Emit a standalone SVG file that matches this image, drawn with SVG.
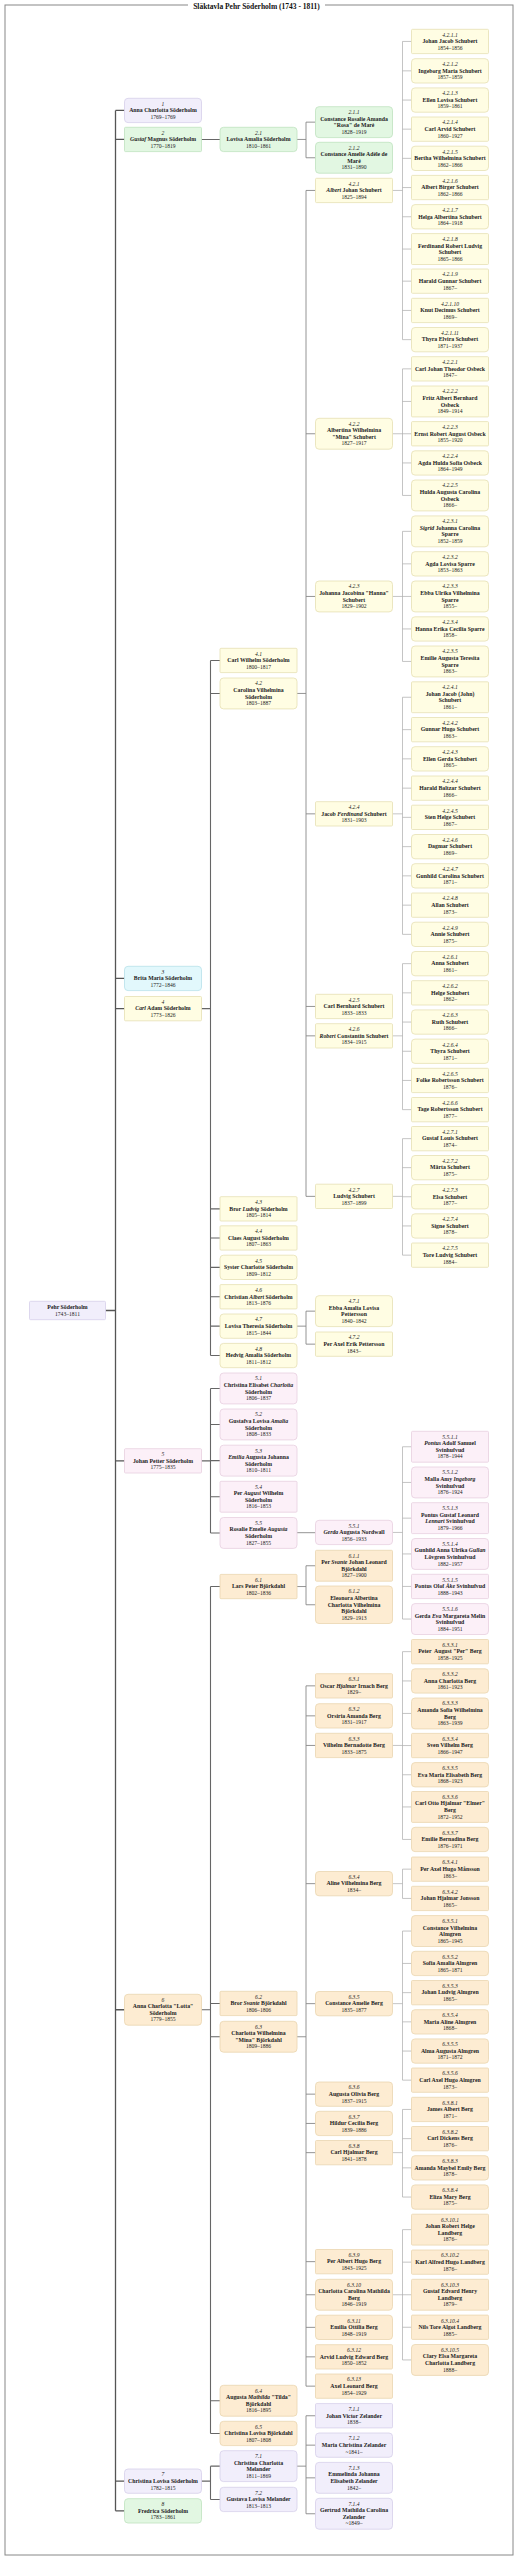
<svg xmlns="http://www.w3.org/2000/svg" width="519" height="2560" viewBox="0 0 519 2560">
<style>
rect.y{fill:#fffde3;stroke:#e6e0b4;stroke-width:.8}
rect.g{fill:#e2f7e2;stroke:#bfe2bf;stroke-width:.8}
rect.c{fill:#e2f8fc;stroke:#b8e1ea;stroke-width:.8}
rect.p{fill:#fcf0f8;stroke:#e7cfe0;stroke-width:.8}
rect.o{fill:#fdecd2;stroke:#ead5b0;stroke-width:.8}
rect.v{fill:#f1eefb;stroke:#d5cfea;stroke-width:.8}
text{font-family:"Liberation Serif","Times New Roman",serif;text-anchor:middle;fill:#222}
.n{font-size:5.6px;font-style:italic}
.b{font-size:5.8px;font-weight:bold}
.d{font-size:5.6px}
.i{font-style:italic}
.t{font-size:7.5px;font-weight:bold;fill:#111}
.k0{stroke:#555;stroke-width:1.3;fill:none}
.k1{stroke:#666;stroke-width:1.1;fill:none}
.k2{stroke:#888;stroke-width:.9;fill:none}
.k3{stroke:#aaa;stroke-width:.7;fill:none}
</style>
<rect x="5" y="5" width="508" height="2550" fill="#fff" stroke="#888" stroke-width="1"/>
<rect x="188" y="2" width="137" height="8" fill="#fff"/>
<text x="256.5" y="8.6" class="t">Släktavla Pehr Söderholm (1743 - 1811)</text>
<g id="connectors">
<path class="k0" d="M105.5,1310.5H115.5M115.5,110.45V2510.85M115.5,110.45H124.5M115.5,139.45H124.5M115.5,978.45H124.5M115.5,1008.65H124.5M115.5,1460.85H124.5M115.5,2009.75H124.5M115.5,2481.15H124.5M115.5,2510.85H124.5"/>
<path class="k1" d="M201.5,139.45H220M201.5,1008.65H210.5M210.5,660.45V1355.55M210.5,660.45H220M210.5,693.45H220M210.5,1208.85H220M210.5,1237.95H220M210.5,1267.35H220M210.5,1296.75H220M210.5,1326.15H220M210.5,1355.55H220M201.5,1460.85H210.5M210.5,1388.45V1532.95M210.5,1388.45H220M210.5,1424.45H220M210.5,1460.65H220M210.5,1496.75H220M210.5,1532.95H220M201.5,2009.75H210.5M210.5,1586.55V2433.45M210.5,1586.55H220M210.5,2003.45H220M210.5,2036.75H220M210.5,2400.75H220M210.5,2433.45H220M201.5,2481.15H210.5M210.5,2466.15V2499.45M210.5,2466.15H220M210.5,2499.45H220"/>
<path class="k2" d="M297,139.45H306M306,122.15V157.75M306,122.15H315.5M306,157.75H315.5M297,693.45H306M306,190.45V1196.35M306,190.45H315.5M306,433.75H315.5M306,596.45H315.5M306,813.85H315.5M306,1006.45H315.5M306,1035.85H315.5M306,1196.35H315.5M297,1326.15H306M306,1311.15V1344.15M306,1311.15H315.5M306,1344.15H315.5M297,1532.7H315.5M297,1586.55H306M306,1565.75V1604.75M306,1565.75H315.5M306,1604.75H315.5M297,2036.75H306M306,1685.85V2386.15M306,1685.85H315.5M306,1715.85H315.5M306,1745.45H315.5M306,1883.65H315.5M306,2003.65H315.5M306,2094.15H315.5M306,2123.45H315.5M306,2152.65H315.5M306,2261.65H315.5M306,2294.75H315.5M306,2327.35H315.5M306,2356.85H315.5M306,2386.15H315.5M297,2466.15H306M306,2415.75V2513.75M306,2415.75H315.5M306,2445.15H315.5M306,2477.85H315.5M306,2513.75H315.5"/>
<path class="k3" d="M392.5,190.45H402.5M402.5,41.45V339.65M402.5,41.45H411.5M402.5,70.85H411.5M402.5,100.05H411.5M402.5,129.15H411.5M402.5,158.35H411.5M402.5,187.55H411.5M402.5,216.75H411.5M402.5,249.05H411.5M402.5,281.15H411.5M402.5,310.45H411.5M402.5,339.65H411.5M392.5,433.75H402.5M402.5,368.85V495.45M402.5,368.85H411.5M402.5,401.45H411.5M402.5,433.75H411.5M402.5,462.95H411.5M402.5,495.45H411.5M392.5,596.45H402.5M402.5,531.35V661.45M402.5,531.35H411.5M402.5,563.85H411.5M402.5,596.45H411.5M402.5,628.95H411.5M402.5,661.45H411.5M392.5,813.85H402.5M402.5,697.25V934.35M402.5,697.25H411.5M402.5,729.65H411.5M402.5,758.85H411.5M402.5,788.15H411.5M402.5,817.35H411.5M402.5,846.65H411.5M402.5,875.85H411.5M402.5,905.15H411.5M402.5,934.35H411.5M392.5,1035.85H402.5M402.5,963.65V1109.65M402.5,963.65H411.5M402.5,992.85H411.5M402.5,1022.05H411.5M402.5,1051.25H411.5M402.5,1080.45H411.5M402.5,1109.65H411.5M392.5,1196.35H402.5M402.5,1138.65V1255.15M402.5,1138.65H411.5M402.5,1167.65H411.5M402.5,1196.75H411.5M402.5,1225.95H411.5M402.5,1255.15H411.5M392.5,1532.45H402.5M402.5,1446.75V1619.05M402.5,1446.75H411.5M402.5,1482.45H411.5M402.5,1518.15H411.5M402.5,1553.95H411.5M402.5,1586.45H411.5M402.5,1619.05H411.5M392.5,1745.45H402.5M402.5,1651.65V1839.45M402.5,1651.65H411.5M402.5,1680.95H411.5M402.5,1713.45H411.5M402.5,1745.55H411.5M402.5,1774.75H411.5M402.5,1806.95H411.5M402.5,1839.45H411.5M392.5,1883.65H402.5M402.5,1869.15V1898.45M402.5,1869.15H411.5M402.5,1898.45H411.5M392.5,2003.65H402.5M402.5,1931.05V2080.15M402.5,1931.05H411.5M402.5,1963.45H411.5M402.5,1992.65H411.5M402.5,2021.85H411.5M402.5,2051.05H411.5M402.5,2080.15H411.5M392.5,2152.65H402.5M402.5,2109.45V2197.05M402.5,2109.45H411.5M402.5,2138.65H411.5M402.5,2167.85H411.5M402.5,2197.05H411.5M392.5,2294.75H402.5M402.5,2229.65V2359.95M402.5,2229.65H411.5M402.5,2262.15H411.5M402.5,2294.75H411.5M402.5,2327.25H411.5M402.5,2359.95H411.5"/>
</g>
<g id="n0"><rect class="v" x="29.5" y="1301.3" width="76" height="18.4" rx="1"/><text x="67.5" y="1308.9" class="b">Pehr Söderholm</text><text x="67.5" y="1315.5" class="d">1743–1811</text></g>
<g id="n1"><rect class="v" x="124.5" y="98.3" width="77" height="24.3" rx="3.5"/><text x="163" y="105.7" class="n">1</text><text x="163" y="112.2" class="b">Anna Charlotta Söderholm</text><text x="163" y="118.8" class="d">1769–1769</text></g>
<g id="n2"><rect class="g" x="124.5" y="127.3" width="77" height="24.3" rx="1"/><text x="163" y="134.7" class="n">2</text><text x="163" y="141.2" class="b"><tspan class="i">Gustaf</tspan> Magnus Söderholm</text><text x="163" y="147.8" class="d">1770–1819</text></g>
<g id="n3"><rect class="c" x="124.5" y="966.3" width="77" height="24.3" rx="3.5"/><text x="163" y="973.7" class="n">3</text><text x="163" y="980.2" class="b">Brita Maria Söderholm</text><text x="163" y="986.8" class="d">1772–1846</text></g>
<g id="n4"><rect class="y" x="124.5" y="996.5" width="77" height="24.3" rx="1"/><text x="163" y="1003.9" class="n">4</text><text x="163" y="1010.4" class="b"><tspan class="i">Carl</tspan> Adam Söderholm</text><text x="163" y="1017" class="d">1773–1826</text></g>
<g id="n5"><rect class="p" x="124.5" y="1448.7" width="77" height="24.3" rx="1"/><text x="163" y="1456.1" class="n">5</text><text x="163" y="1462.6" class="b">Johan Petter Söderholm</text><text x="163" y="1469.2" class="d">1775–1835</text></g>
<g id="n6"><rect class="o" x="124.5" y="1994.3" width="77" height="30.9" rx="3.5"/><text x="163" y="2001.7" class="n">6</text><text x="163" y="2008.2" class="b">Anna Charlotta "Lotta"</text><text x="163" y="2014.8" class="b">Söderholm</text><text x="163" y="2021.4" class="d">1779–1855</text></g>
<g id="n7"><rect class="v" x="124.5" y="2469" width="77" height="24.3" rx="3.5"/><text x="163" y="2476.4" class="n">7</text><text x="163" y="2482.9" class="b">Christina Lovisa Söderholm</text><text x="163" y="2489.5" class="d">1782–1815</text></g>
<g id="n8"><rect class="g" x="124.5" y="2498.7" width="77" height="24.3" rx="3.5"/><text x="163" y="2506.1" class="n">8</text><text x="163" y="2512.6" class="b">Fredrica Söderholm</text><text x="163" y="2519.2" class="d">1783–1861</text></g>
<g id="n2_1"><rect class="g" x="220" y="127.3" width="77" height="24.3" rx="3.5"/><text x="258.5" y="134.7" class="n">2.1</text><text x="258.5" y="141.2" class="b">Lovisa Amalia Söderholm</text><text x="258.5" y="147.8" class="d">1810–1861</text></g>
<g id="n4_1"><rect class="y" x="220" y="648.3" width="77" height="24.3" rx="1"/><text x="258.5" y="655.7" class="n">4.1</text><text x="258.5" y="662.2" class="b">Carl Wilhelm Söderholm</text><text x="258.5" y="668.8" class="d">1800–1817</text></g>
<g id="n4_2"><rect class="y" x="220" y="678" width="77" height="30.9" rx="3.5"/><text x="258.5" y="685.4" class="n">4.2</text><text x="258.5" y="691.9" class="b">Carolina Vilhelmina</text><text x="258.5" y="698.5" class="b">Söderholm</text><text x="258.5" y="705.1" class="d">1803–1887</text></g>
<g id="n4_3"><rect class="y" x="220" y="1196.7" width="77" height="24.3" rx="1"/><text x="258.5" y="1204.1" class="n">4.3</text><text x="258.5" y="1210.6" class="b">Bror <tspan class="i">Ludvig</tspan> Söderholm</text><text x="258.5" y="1217.2" class="d">1805–1814</text></g>
<g id="n4_4"><rect class="y" x="220" y="1225.8" width="77" height="24.3" rx="1"/><text x="258.5" y="1233.2" class="n">4.4</text><text x="258.5" y="1239.7" class="b">Claes August Söderholm</text><text x="258.5" y="1246.3" class="d">1807–1863</text></g>
<g id="n4_5"><rect class="y" x="220" y="1255.2" width="77" height="24.3" rx="3.5"/><text x="258.5" y="1262.6" class="n">4.5</text><text x="258.5" y="1269.1" class="b">Syster Charlotte Söderholm</text><text x="258.5" y="1275.7" class="d">1809–1812</text></g>
<g id="n4_6"><rect class="y" x="220" y="1284.6" width="77" height="24.3" rx="1"/><text x="258.5" y="1292" class="n">4.6</text><text x="258.5" y="1298.5" class="b">Christian <tspan class="i">Albert</tspan> Söderholm</text><text x="258.5" y="1305.1" class="d">1813–1876</text></g>
<g id="n4_7"><rect class="y" x="220" y="1314" width="77" height="24.3" rx="3.5"/><text x="258.5" y="1321.4" class="n">4.7</text><text x="258.5" y="1327.9" class="b">Lovisa Theresia Söderholm</text><text x="258.5" y="1334.5" class="d">1815–1844</text></g>
<g id="n4_8"><rect class="y" x="220" y="1343.4" width="77" height="24.3" rx="3.5"/><text x="258.5" y="1350.8" class="n">4.8</text><text x="258.5" y="1357.3" class="b">Hedvig Amalia Söderholm</text><text x="258.5" y="1363.9" class="d">1811–1812</text></g>
<g id="n5_1"><rect class="p" x="220" y="1373" width="77" height="30.9" rx="3.5"/><text x="258.5" y="1380.4" class="n">5.1</text><text x="258.5" y="1386.9" class="b">Christina Elisabet <tspan class="i">Charlotta</tspan></text><text x="258.5" y="1393.5" class="b">Söderholm</text><text x="258.5" y="1400.1" class="d">1806–1837</text></g>
<g id="n5_2"><rect class="p" x="220" y="1409" width="77" height="30.9" rx="3.5"/><text x="258.5" y="1416.4" class="n">5.2</text><text x="258.5" y="1422.9" class="b">Gustafva Lovisa <tspan class="i">Amalia</tspan></text><text x="258.5" y="1429.5" class="b">Söderholm</text><text x="258.5" y="1436.1" class="d">1808–1833</text></g>
<g id="n5_3"><rect class="p" x="220" y="1445.2" width="77" height="30.9" rx="3.5"/><text x="258.5" y="1452.6" class="n">5.3</text><text x="258.5" y="1459.1" class="b"><tspan class="i">Emilia</tspan> Augusta Johanna</text><text x="258.5" y="1465.7" class="b">Söderholm</text><text x="258.5" y="1472.3" class="d">1810–1811</text></g>
<g id="n5_4"><rect class="p" x="220" y="1481.3" width="77" height="30.9" rx="1"/><text x="258.5" y="1488.7" class="n">5.4</text><text x="258.5" y="1495.2" class="b">Per <tspan class="i">August</tspan> Wilhelm</text><text x="258.5" y="1501.8" class="b">Söderholm</text><text x="258.5" y="1508.4" class="d">1816–1853</text></g>
<g id="n5_5"><rect class="p" x="220" y="1517.5" width="77" height="30.9" rx="3.5"/><text x="258.5" y="1524.9" class="n">5.5</text><text x="258.5" y="1531.4" class="b">Rosalie Emelie <tspan class="i">Augusta</tspan></text><text x="258.5" y="1538" class="b">Söderholm</text><text x="258.5" y="1544.6" class="d">1827–1855</text></g>
<g id="n6_1"><rect class="o" x="220" y="1574.4" width="77" height="24.3" rx="1"/><text x="258.5" y="1581.8" class="n">6.1</text><text x="258.5" y="1588.3" class="b">Lars Peter Björkdahl</text><text x="258.5" y="1594.9" class="d">1802–1836</text></g>
<g id="n6_2"><rect class="o" x="220" y="1991.3" width="77" height="24.3" rx="1"/><text x="258.5" y="1998.7" class="n">6.2</text><text x="258.5" y="2005.2" class="b">Bror <tspan class="i">Svante</tspan> Björkdahl</text><text x="258.5" y="2011.8" class="d">1806–1806</text></g>
<g id="n6_3"><rect class="o" x="220" y="2021.3" width="77" height="30.9" rx="3.5"/><text x="258.5" y="2028.7" class="n">6.3</text><text x="258.5" y="2035.2" class="b">Charlotta Wilhelmina</text><text x="258.5" y="2041.8" class="b">"Mina" Björkdahl</text><text x="258.5" y="2048.4" class="d">1809–1886</text></g>
<g id="n6_4"><rect class="o" x="220" y="2385.3" width="77" height="30.9" rx="3.5"/><text x="258.5" y="2392.7" class="n">6.4</text><text x="258.5" y="2399.2" class="b">Augusta <tspan class="i">Mathilda</tspan> "Tilda"</text><text x="258.5" y="2405.8" class="b">Björkdahl</text><text x="258.5" y="2412.4" class="d">1816–1895</text></g>
<g id="n6_5"><rect class="o" x="220" y="2421.3" width="77" height="24.3" rx="3.5"/><text x="258.5" y="2428.7" class="n">6.5</text><text x="258.5" y="2435.2" class="b">Christina Lovisa Björkdahl</text><text x="258.5" y="2441.8" class="d">1807–1808</text></g>
<g id="n7_1"><rect class="v" x="220" y="2450.7" width="77" height="30.9" rx="3.5"/><text x="258.5" y="2458.1" class="n">7.1</text><text x="258.5" y="2464.6" class="b">Christina Charlotta</text><text x="258.5" y="2471.2" class="b">Melander</text><text x="258.5" y="2477.8" class="d">1811–1869</text></g>
<g id="n7_2"><rect class="v" x="220" y="2487.3" width="77" height="24.3" rx="3.5"/><text x="258.5" y="2494.7" class="n">7.2</text><text x="258.5" y="2501.2" class="b">Gustava Lovisa Melander</text><text x="258.5" y="2507.8" class="d">1813–1813</text></g>
<g id="n2_1_1"><rect class="g" x="315.5" y="106.7" width="77" height="30.9" rx="3.5"/><text x="354" y="114.1" class="n">2.1.1</text><text x="354" y="120.6" class="b">Constance Rosalie Amanda</text><text x="354" y="127.2" class="b">"Rosa" de Maré</text><text x="354" y="133.8" class="d">1828–1919</text></g>
<g id="n2_1_2"><rect class="g" x="315.5" y="142.3" width="77" height="30.9" rx="3.5"/><text x="354" y="149.7" class="n">2.1.2</text><text x="354" y="156.2" class="b">Constance Amelie Adèle de</text><text x="354" y="162.8" class="b">Maré</text><text x="354" y="169.4" class="d">1831–1890</text></g>
<g id="n4_2_1"><rect class="y" x="315.5" y="178.3" width="77" height="24.3" rx="1"/><text x="354" y="185.7" class="n">4.2.1</text><text x="354" y="192.2" class="b"><tspan class="i">Albert</tspan> Johan Schubert</text><text x="354" y="198.8" class="d">1825–1894</text></g>
<g id="n4_2_2"><rect class="y" x="315.5" y="418.3" width="77" height="30.9" rx="3.5"/><text x="354" y="425.7" class="n">4.2.2</text><text x="354" y="432.2" class="b">Albertina Wilhelmina</text><text x="354" y="438.8" class="b">"Mina" Schubert</text><text x="354" y="445.4" class="d">1827–1917</text></g>
<g id="n4_2_3"><rect class="y" x="315.5" y="581" width="77" height="30.9" rx="3.5"/><text x="354" y="588.4" class="n">4.2.3</text><text x="354" y="594.9" class="b">Johanna Jacobina "Hanna"</text><text x="354" y="601.5" class="b">Schubert</text><text x="354" y="608.1" class="d">1829–1902</text></g>
<g id="n4_2_4"><rect class="y" x="315.5" y="801.7" width="77" height="24.3" rx="1"/><text x="354" y="809.1" class="n">4.2.4</text><text x="354" y="815.6" class="b">Jacob <tspan class="i">Ferdinand</tspan> Schubert</text><text x="354" y="822.2" class="d">1831–1903</text></g>
<g id="n4_2_5"><rect class="y" x="315.5" y="994.3" width="77" height="24.3" rx="1"/><text x="354" y="1001.7" class="n">4.2.5</text><text x="354" y="1008.2" class="b">Carl Bernhard Schubert</text><text x="354" y="1014.8" class="d">1833–1833</text></g>
<g id="n4_2_6"><rect class="y" x="315.5" y="1023.7" width="77" height="24.3" rx="1"/><text x="354" y="1031.1" class="n">4.2.6</text><text x="354" y="1037.6" class="b"><tspan class="i">Robert</tspan> Constantin Schubert</text><text x="354" y="1044.2" class="d">1834–1915</text></g>
<g id="n4_2_7"><rect class="y" x="315.5" y="1184.2" width="77" height="24.3" rx="1"/><text x="354" y="1191.6" class="n">4.2.7</text><text x="354" y="1198.1" class="b">Ludvig Schubert</text><text x="354" y="1204.7" class="d">1837–1899</text></g>
<g id="n4_7_1"><rect class="y" x="315.5" y="1295.7" width="77" height="30.9" rx="3.5"/><text x="354" y="1303.1" class="n">4.7.1</text><text x="354" y="1309.6" class="b">Ebba Amalia Lovisa</text><text x="354" y="1316.2" class="b">Pettersson</text><text x="354" y="1322.8" class="d">1840–1842</text></g>
<g id="n4_7_2"><rect class="y" x="315.5" y="1332" width="77" height="24.3" rx="1"/><text x="354" y="1339.4" class="n">4.7.2</text><text x="354" y="1345.9" class="b">Per Axel Erik Pettersson</text><text x="354" y="1352.5" class="d">1843–</text></g>
<g id="n5_5_1"><rect class="p" x="315.5" y="1520.3" width="77" height="24.3" rx="3.5"/><text x="354" y="1527.7" class="n">5.5.1</text><text x="354" y="1534.2" class="b"><tspan class="i">Gerda</tspan> Augusta Nordwall</text><text x="354" y="1540.8" class="d">1856–1933</text></g>
<g id="n6_1_1"><rect class="o" x="315.5" y="1550.3" width="77" height="30.9" rx="1"/><text x="354" y="1557.7" class="n">6.1.1</text><text x="354" y="1564.2" class="b">Per <tspan class="i">Svante</tspan> Johan Leonard</text><text x="354" y="1570.8" class="b">Björkdahl</text><text x="354" y="1577.4" class="d">1827–1900</text></g>
<g id="n6_1_2"><rect class="o" x="315.5" y="1586" width="77" height="37.5" rx="3.5"/><text x="354" y="1593.4" class="n">6.1.2</text><text x="354" y="1599.9" class="b">Eleonora Albertina</text><text x="354" y="1606.5" class="b">Charlotta Vilhelmina</text><text x="354" y="1613.1" class="b">Björkdahl</text><text x="354" y="1619.7" class="d">1829–1913</text></g>
<g id="n6_3_1"><rect class="o" x="315.5" y="1673.7" width="77" height="24.3" rx="1"/><text x="354" y="1681.1" class="n">6.3.1</text><text x="354" y="1687.6" class="b">Oscar <tspan class="i">Hjalmar</tspan> Irnach Berg</text><text x="354" y="1694.2" class="d">1829–</text></g>
<g id="n6_3_2"><rect class="o" x="315.5" y="1703.7" width="77" height="24.3" rx="3.5"/><text x="354" y="1711.1" class="n">6.3.2</text><text x="354" y="1717.6" class="b">Orsiria Amanda Berg</text><text x="354" y="1724.2" class="d">1831–1917</text></g>
<g id="n6_3_3"><rect class="o" x="315.5" y="1733.3" width="77" height="24.3" rx="1"/><text x="354" y="1740.7" class="n">6.3.3</text><text x="354" y="1747.2" class="b">Vilhelm Bernadotte Berg</text><text x="354" y="1753.8" class="d">1833–1875</text></g>
<g id="n6_3_4"><rect class="o" x="315.5" y="1871.5" width="77" height="24.3" rx="3.5"/><text x="354" y="1878.9" class="n">6.3.4</text><text x="354" y="1885.4" class="b">Aline Vilhelmina Berg</text><text x="354" y="1892" class="d">1834–</text></g>
<g id="n6_3_5"><rect class="o" x="315.5" y="1991.5" width="77" height="24.3" rx="3.5"/><text x="354" y="1998.9" class="n">6.3.5</text><text x="354" y="2005.4" class="b">Constance Amelie Berg</text><text x="354" y="2012" class="d">1835–1877</text></g>
<g id="n6_3_6"><rect class="o" x="315.5" y="2082" width="77" height="24.3" rx="3.5"/><text x="354" y="2089.4" class="n">6.3.6</text><text x="354" y="2095.9" class="b">Augusta Olivia Berg</text><text x="354" y="2102.5" class="d">1837–1915</text></g>
<g id="n6_3_7"><rect class="o" x="315.5" y="2111.3" width="77" height="24.3" rx="3.5"/><text x="354" y="2118.7" class="n">6.3.7</text><text x="354" y="2125.2" class="b">Hildur Cecilia Berg</text><text x="354" y="2131.8" class="d">1839–1886</text></g>
<g id="n6_3_8"><rect class="o" x="315.5" y="2140.5" width="77" height="24.3" rx="1"/><text x="354" y="2147.9" class="n">6.3.8</text><text x="354" y="2154.4" class="b">Carl Hjalmar Berg</text><text x="354" y="2161" class="d">1841–1878</text></g>
<g id="n6_3_9"><rect class="o" x="315.5" y="2249.5" width="77" height="24.3" rx="1"/><text x="354" y="2256.9" class="n">6.3.9</text><text x="354" y="2263.4" class="b">Per Albert Hugo Berg</text><text x="354" y="2270" class="d">1843–1925</text></g>
<g id="n6_3_10"><rect class="o" x="315.5" y="2279.3" width="77" height="30.9" rx="3.5"/><text x="354" y="2286.7" class="n">6.3.10</text><text x="354" y="2293.2" class="b">Charlotta Carolina Mathilda</text><text x="354" y="2299.8" class="b">Berg</text><text x="354" y="2306.4" class="d">1846–1919</text></g>
<g id="n6_3_11"><rect class="o" x="315.5" y="2315.2" width="77" height="24.3" rx="3.5"/><text x="354" y="2322.6" class="n">6.3.11</text><text x="354" y="2329.1" class="b">Emilia Ottilia Berg</text><text x="354" y="2335.7" class="d">1848–1919</text></g>
<g id="n6_3_12"><rect class="o" x="315.5" y="2344.7" width="77" height="24.3" rx="1"/><text x="354" y="2352.1" class="n">6.3.12</text><text x="354" y="2358.6" class="b">Arvid Ludvig Edward Berg</text><text x="354" y="2365.2" class="d">1850–1852</text></g>
<g id="n6_3_13"><rect class="o" x="315.5" y="2374" width="77" height="24.3" rx="1"/><text x="354" y="2381.4" class="n">6.3.13</text><text x="354" y="2387.9" class="b">Axel Leonard Berg</text><text x="354" y="2394.5" class="d">1854–1929</text></g>
<g id="n7_1_1"><rect class="v" x="315.5" y="2403.6" width="77" height="24.3" rx="1"/><text x="354" y="2411" class="n">7.1.1</text><text x="354" y="2417.5" class="b">Johan Victor Zelander</text><text x="354" y="2424.1" class="d">1838–</text></g>
<g id="n7_1_2"><rect class="v" x="315.5" y="2433" width="77" height="24.3" rx="3.5"/><text x="354" y="2440.4" class="n">7.1.2</text><text x="354" y="2446.9" class="b">Maria Christina Zelander</text><text x="354" y="2453.5" class="d">~1841–</text></g>
<g id="n7_1_3"><rect class="v" x="315.5" y="2462.4" width="77" height="30.9" rx="3.5"/><text x="354" y="2469.8" class="n">7.1.3</text><text x="354" y="2476.3" class="b">Emmelinda Johanna</text><text x="354" y="2482.9" class="b">Elisabeth Zelander</text><text x="354" y="2489.5" class="d">1842–</text></g>
<g id="n7_1_4"><rect class="v" x="315.5" y="2498.3" width="77" height="30.9" rx="3.5"/><text x="354" y="2505.7" class="n">7.1.4</text><text x="354" y="2512.2" class="b">Gertrud Mathilda Carolina</text><text x="354" y="2518.8" class="b">Zelander</text><text x="354" y="2525.4" class="d">~1849–</text></g>
<g id="n4_2_1_1"><rect class="y" x="411.5" y="29.3" width="77" height="24.3" rx="1"/><text x="450" y="36.7" class="n">4.2.1.1</text><text x="450" y="43.2" class="b">Johan Jacob Schubert</text><text x="450" y="49.8" class="d">1854–1856</text></g>
<g id="n4_2_1_2"><rect class="y" x="411.5" y="58.7" width="77" height="24.3" rx="3.5"/><text x="450" y="66.1" class="n">4.2.1.2</text><text x="450" y="72.6" class="b">Ingeborg Maria Schubert</text><text x="450" y="79.2" class="d">1857–1859</text></g>
<g id="n4_2_1_3"><rect class="y" x="411.5" y="87.9" width="77" height="24.3" rx="3.5"/><text x="450" y="95.3" class="n">4.2.1.3</text><text x="450" y="101.8" class="b">Ellen Lovisa Schubert</text><text x="450" y="108.4" class="d">1859–1861</text></g>
<g id="n4_2_1_4"><rect class="y" x="411.5" y="117" width="77" height="24.3" rx="1"/><text x="450" y="124.4" class="n">4.2.1.4</text><text x="450" y="130.9" class="b">Carl Arvid Schubert</text><text x="450" y="137.5" class="d">1860–1927</text></g>
<g id="n4_2_1_5"><rect class="y" x="411.5" y="146.2" width="77" height="24.3" rx="3.5"/><text x="450" y="153.6" class="n">4.2.1.5</text><text x="450" y="160.1" class="b">Bertha Wilhelmina Schubert</text><text x="450" y="166.7" class="d">1862–1866</text></g>
<g id="n4_2_1_6"><rect class="y" x="411.5" y="175.4" width="77" height="24.3" rx="1"/><text x="450" y="182.8" class="n">4.2.1.6</text><text x="450" y="189.3" class="b">Albert Birger Schubert</text><text x="450" y="195.9" class="d">1862–1866</text></g>
<g id="n4_2_1_7"><rect class="y" x="411.5" y="204.6" width="77" height="24.3" rx="3.5"/><text x="450" y="212" class="n">4.2.1.7</text><text x="450" y="218.5" class="b">Helga Albertina Schubert</text><text x="450" y="225.1" class="d">1864–1918</text></g>
<g id="n4_2_1_8"><rect class="y" x="411.5" y="233.6" width="77" height="30.9" rx="1"/><text x="450" y="241" class="n">4.2.1.8</text><text x="450" y="247.5" class="b">Ferdinand Robert Ludvig</text><text x="450" y="254.1" class="b">Schubert</text><text x="450" y="260.7" class="d">1865–1866</text></g>
<g id="n4_2_1_9"><rect class="y" x="411.5" y="269" width="77" height="24.3" rx="1"/><text x="450" y="276.4" class="n">4.2.1.9</text><text x="450" y="282.9" class="b">Harald Gunnar Schubert</text><text x="450" y="289.5" class="d">1867–</text></g>
<g id="n4_2_1_10"><rect class="y" x="411.5" y="298.3" width="77" height="24.3" rx="1"/><text x="450" y="305.7" class="n">4.2.1.10</text><text x="450" y="312.2" class="b">Knut Decimus Schubert</text><text x="450" y="318.8" class="d">1869–</text></g>
<g id="n4_2_1_11"><rect class="y" x="411.5" y="327.5" width="77" height="24.3" rx="3.5"/><text x="450" y="334.9" class="n">4.2.1.11</text><text x="450" y="341.4" class="b">Thyra Elvira Schubert</text><text x="450" y="348" class="d">1871–1937</text></g>
<g id="n4_2_2_1"><rect class="y" x="411.5" y="356.7" width="77" height="24.3" rx="1"/><text x="450" y="364.1" class="n">4.2.2.1</text><text x="450" y="370.6" class="b">Carl Johan Theodor Osbeck</text><text x="450" y="377.2" class="d">1847–</text></g>
<g id="n4_2_2_2"><rect class="y" x="411.5" y="386" width="77" height="30.9" rx="1"/><text x="450" y="393.4" class="n">4.2.2.2</text><text x="450" y="399.9" class="b">Fritz Albert Bernhard</text><text x="450" y="406.5" class="b">Osbeck</text><text x="450" y="413.1" class="d">1849–1914</text></g>
<g id="n4_2_2_3"><rect class="y" x="411.5" y="421.6" width="77" height="24.3" rx="1"/><text x="450" y="429" class="n">4.2.2.3</text><text x="450" y="435.5" class="b">Ernst Robert August Osbeck</text><text x="450" y="442.1" class="d">1855–1920</text></g>
<g id="n4_2_2_4"><rect class="y" x="411.5" y="450.8" width="77" height="24.3" rx="3.5"/><text x="450" y="458.2" class="n">4.2.2.4</text><text x="450" y="464.7" class="b">Agda Hulda Sofia Osbeck</text><text x="450" y="471.3" class="d">1864–1949</text></g>
<g id="n4_2_2_5"><rect class="y" x="411.5" y="480" width="77" height="30.9" rx="3.5"/><text x="450" y="487.4" class="n">4.2.2.5</text><text x="450" y="493.9" class="b">Hulda Augusta Carolina</text><text x="450" y="500.5" class="b">Osbeck</text><text x="450" y="507.1" class="d">1866–</text></g>
<g id="n4_2_3_1"><rect class="y" x="411.5" y="515.9" width="77" height="30.9" rx="3.5"/><text x="450" y="523.3" class="n">4.2.3.1</text><text x="450" y="529.8" class="b"><tspan class="i">Sigrid</tspan> Johanna Carolina</text><text x="450" y="536.4" class="b">Sparre</text><text x="450" y="543" class="d">1852–1859</text></g>
<g id="n4_2_3_2"><rect class="y" x="411.5" y="551.7" width="77" height="24.3" rx="3.5"/><text x="450" y="559.1" class="n">4.2.3.2</text><text x="450" y="565.6" class="b">Agda Lovisa Sparre</text><text x="450" y="572.2" class="d">1853–1863</text></g>
<g id="n4_2_3_3"><rect class="y" x="411.5" y="581" width="77" height="30.9" rx="3.5"/><text x="450" y="588.4" class="n">4.2.3.3</text><text x="450" y="594.9" class="b">Ebba Ulrika Vilhelmina</text><text x="450" y="601.5" class="b">Sparre</text><text x="450" y="608.1" class="d">1855–</text></g>
<g id="n4_2_3_4"><rect class="y" x="411.5" y="616.8" width="77" height="24.3" rx="3.5"/><text x="450" y="624.2" class="n">4.2.3.4</text><text x="450" y="630.7" class="b">Hanna Erika Cecilia Sparre</text><text x="450" y="637.3" class="d">1858–</text></g>
<g id="n4_2_3_5"><rect class="y" x="411.5" y="646" width="77" height="30.9" rx="3.5"/><text x="450" y="653.4" class="n">4.2.3.5</text><text x="450" y="659.9" class="b">Emilie Augusta Teresita</text><text x="450" y="666.5" class="b">Sparre</text><text x="450" y="673.1" class="d">1863–</text></g>
<g id="n4_2_4_1"><rect class="y" x="411.5" y="681.8" width="77" height="30.9" rx="1"/><text x="450" y="689.2" class="n">4.2.4.1</text><text x="450" y="695.7" class="b">Johan Jacob (John)</text><text x="450" y="702.3" class="b">Schubert</text><text x="450" y="708.9" class="d">1861–</text></g>
<g id="n4_2_4_2"><rect class="y" x="411.5" y="717.5" width="77" height="24.3" rx="1"/><text x="450" y="724.9" class="n">4.2.4.2</text><text x="450" y="731.4" class="b">Gunnar Hugo Schubert</text><text x="450" y="738" class="d">1863–</text></g>
<g id="n4_2_4_3"><rect class="y" x="411.5" y="746.7" width="77" height="24.3" rx="3.5"/><text x="450" y="754.1" class="n">4.2.4.3</text><text x="450" y="760.6" class="b">Ellen Gerda Schubert</text><text x="450" y="767.2" class="d">1865–</text></g>
<g id="n4_2_4_4"><rect class="y" x="411.5" y="776" width="77" height="24.3" rx="1"/><text x="450" y="783.4" class="n">4.2.4.4</text><text x="450" y="789.9" class="b">Harald Baltzar Schubert</text><text x="450" y="796.5" class="d">1866–</text></g>
<g id="n4_2_4_5"><rect class="y" x="411.5" y="805.2" width="77" height="24.3" rx="1"/><text x="450" y="812.6" class="n">4.2.4.5</text><text x="450" y="819.1" class="b">Sten Helge Schubert</text><text x="450" y="825.7" class="d">1867–</text></g>
<g id="n4_2_4_6"><rect class="y" x="411.5" y="834.5" width="77" height="24.3" rx="3.5"/><text x="450" y="841.9" class="n">4.2.4.6</text><text x="450" y="848.4" class="b">Dagmar Schubert</text><text x="450" y="855" class="d">1869–</text></g>
<g id="n4_2_4_7"><rect class="y" x="411.5" y="863.7" width="77" height="24.3" rx="3.5"/><text x="450" y="871.1" class="n">4.2.4.7</text><text x="450" y="877.6" class="b">Gunhild Carolina Schubert</text><text x="450" y="884.2" class="d">1871–</text></g>
<g id="n4_2_4_8"><rect class="y" x="411.5" y="893" width="77" height="24.3" rx="1"/><text x="450" y="900.4" class="n">4.2.4.8</text><text x="450" y="906.9" class="b">Allan Schubert</text><text x="450" y="913.5" class="d">1873–</text></g>
<g id="n4_2_4_9"><rect class="y" x="411.5" y="922.2" width="77" height="24.3" rx="3.5"/><text x="450" y="929.6" class="n">4.2.4.9</text><text x="450" y="936.1" class="b">Annie Schubert</text><text x="450" y="942.7" class="d">1875–</text></g>
<g id="n4_2_6_1"><rect class="y" x="411.5" y="951.5" width="77" height="24.3" rx="3.5"/><text x="450" y="958.9" class="n">4.2.6.1</text><text x="450" y="965.4" class="b">Anna Schubert</text><text x="450" y="972" class="d">1861–</text></g>
<g id="n4_2_6_2"><rect class="y" x="411.5" y="980.7" width="77" height="24.3" rx="1"/><text x="450" y="988.1" class="n">4.2.6.2</text><text x="450" y="994.6" class="b">Helge Schubert</text><text x="450" y="1001.2" class="d">1862–</text></g>
<g id="n4_2_6_3"><rect class="y" x="411.5" y="1009.9" width="77" height="24.3" rx="3.5"/><text x="450" y="1017.3" class="n">4.2.6.3</text><text x="450" y="1023.8" class="b">Ruth Schubert</text><text x="450" y="1030.4" class="d">1866–</text></g>
<g id="n4_2_6_4"><rect class="y" x="411.5" y="1039.1" width="77" height="24.3" rx="3.5"/><text x="450" y="1046.5" class="n">4.2.6.4</text><text x="450" y="1053" class="b">Thyra Schubert</text><text x="450" y="1059.6" class="d">1871–</text></g>
<g id="n4_2_6_5"><rect class="y" x="411.5" y="1068.3" width="77" height="24.3" rx="1"/><text x="450" y="1075.7" class="n">4.2.6.5</text><text x="450" y="1082.2" class="b">Folke Robertsson Schubert</text><text x="450" y="1088.8" class="d">1876–</text></g>
<g id="n4_2_6_6"><rect class="y" x="411.5" y="1097.5" width="77" height="24.3" rx="1"/><text x="450" y="1104.9" class="n">4.2.6.6</text><text x="450" y="1111.4" class="b">Tage Robertsson Schubert</text><text x="450" y="1118" class="d">1877–</text></g>
<g id="n4_2_7_1"><rect class="y" x="411.5" y="1126.5" width="77" height="24.3" rx="1"/><text x="450" y="1133.9" class="n">4.2.7.1</text><text x="450" y="1140.4" class="b">Gustaf Louis Schubert</text><text x="450" y="1147" class="d">1874–</text></g>
<g id="n4_2_7_2"><rect class="y" x="411.5" y="1155.5" width="77" height="24.3" rx="3.5"/><text x="450" y="1162.9" class="n">4.2.7.2</text><text x="450" y="1169.4" class="b">Märta Schubert</text><text x="450" y="1176" class="d">1875–</text></g>
<g id="n4_2_7_3"><rect class="y" x="411.5" y="1184.6" width="77" height="24.3" rx="3.5"/><text x="450" y="1192" class="n">4.2.7.3</text><text x="450" y="1198.5" class="b">Elsa Schubert</text><text x="450" y="1205.1" class="d">1877–</text></g>
<g id="n4_2_7_4"><rect class="y" x="411.5" y="1213.8" width="77" height="24.3" rx="3.5"/><text x="450" y="1221.2" class="n">4.2.7.4</text><text x="450" y="1227.7" class="b">Signe Schubert</text><text x="450" y="1234.3" class="d">1878–</text></g>
<g id="n4_2_7_5"><rect class="y" x="411.5" y="1243" width="77" height="24.3" rx="1"/><text x="450" y="1250.4" class="n">4.2.7.5</text><text x="450" y="1256.9" class="b">Tore Ludvig Schubert</text><text x="450" y="1263.5" class="d">1884–</text></g>
<g id="n5_5_1_1"><rect class="p" x="411.5" y="1431.3" width="77" height="30.9" rx="1"/><text x="450" y="1438.7" class="n">5.5.1.1</text><text x="450" y="1445.2" class="b"><tspan class="i">Pontus</tspan> Adolf Samuel</text><text x="450" y="1451.8" class="b">Svinhufvud</text><text x="450" y="1458.4" class="d">1878–1944</text></g>
<g id="n5_5_1_2"><rect class="p" x="411.5" y="1467" width="77" height="30.9" rx="3.5"/><text x="450" y="1474.4" class="n">5.5.1.2</text><text x="450" y="1480.9" class="b">Malla Amy <tspan class="i">Ingeborg</tspan></text><text x="450" y="1487.5" class="b">Svinhufvud</text><text x="450" y="1494.1" class="d">1876–1924</text></g>
<g id="n5_5_1_3"><rect class="p" x="411.5" y="1502.7" width="77" height="30.9" rx="1"/><text x="450" y="1510.1" class="n">5.5.1.3</text><text x="450" y="1516.6" class="b">Pontus Gustaf Leonard</text><text x="450" y="1523.2" class="b"><tspan class="i">Lennart</tspan> Svinhufvud</text><text x="450" y="1529.8" class="d">1879–1966</text></g>
<g id="n5_5_1_4"><rect class="p" x="411.5" y="1538.5" width="77" height="30.9" rx="3.5"/><text x="450" y="1545.9" class="n">5.5.1.4</text><text x="450" y="1552.4" class="b">Gunhild Anna Ulrika <tspan class="i">Gullan</tspan></text><text x="450" y="1559" class="b">Lövgren Svinhufvud</text><text x="450" y="1565.6" class="d">1882–1957</text></g>
<g id="n5_5_1_5"><rect class="p" x="411.5" y="1574.3" width="77" height="24.3" rx="1"/><text x="450" y="1581.7" class="n">5.5.1.5</text><text x="450" y="1588.2" class="b">Pontus Olof <tspan class="i">Åke</tspan> Svinhufvud</text><text x="450" y="1594.8" class="d">1888–1943</text></g>
<g id="n5_5_1_6"><rect class="p" x="411.5" y="1603.6" width="77" height="30.9" rx="3.5"/><text x="450" y="1611" class="n">5.5.1.6</text><text x="450" y="1617.5" class="b">Gerda <tspan class="i">Eva</tspan> Margareta Melin</text><text x="450" y="1624.1" class="b">Svinhufvud</text><text x="450" y="1630.7" class="d">1884–1951</text></g>
<g id="n6_3_3_1"><rect class="o" x="411.5" y="1639.5" width="77" height="24.3" rx="1"/><text x="450" y="1646.9" class="n">6.3.3.1</text><text x="450" y="1653.4" class="b">Peter&#160; August "Per" Berg</text><text x="450" y="1660" class="d">1858–1925</text></g>
<g id="n6_3_3_2"><rect class="o" x="411.5" y="1668.8" width="77" height="24.3" rx="3.5"/><text x="450" y="1676.2" class="n">6.3.3.2</text><text x="450" y="1682.7" class="b">Anna Charlotta Berg</text><text x="450" y="1689.3" class="d">1861–1923</text></g>
<g id="n6_3_3_3"><rect class="o" x="411.5" y="1698" width="77" height="30.9" rx="3.5"/><text x="450" y="1705.4" class="n">6.3.3.3</text><text x="450" y="1711.9" class="b">Amanda Sofia Wilhelmina</text><text x="450" y="1718.5" class="b">Berg</text><text x="450" y="1725.1" class="d">1863–1939</text></g>
<g id="n6_3_3_4"><rect class="o" x="411.5" y="1733.4" width="77" height="24.3" rx="1"/><text x="450" y="1740.8" class="n">6.3.3.4</text><text x="450" y="1747.3" class="b">Sven Vilhelm Berg</text><text x="450" y="1753.9" class="d">1866–1947</text></g>
<g id="n6_3_3_5"><rect class="o" x="411.5" y="1762.6" width="77" height="24.3" rx="3.5"/><text x="450" y="1770" class="n">6.3.3.5</text><text x="450" y="1776.5" class="b">Eva Maria Elisabeth Berg</text><text x="450" y="1783.1" class="d">1868–1923</text></g>
<g id="n6_3_3_6"><rect class="o" x="411.5" y="1791.5" width="77" height="30.9" rx="1"/><text x="450" y="1798.9" class="n">6.3.3.6</text><text x="450" y="1805.4" class="b">Carl Otto Hjalmar "Elmer"</text><text x="450" y="1812" class="b">Berg</text><text x="450" y="1818.6" class="d">1872–1952</text></g>
<g id="n6_3_3_7"><rect class="o" x="411.5" y="1827.3" width="77" height="24.3" rx="3.5"/><text x="450" y="1834.7" class="n">6.3.3.7</text><text x="450" y="1841.2" class="b">Emilie Bernadina Berg</text><text x="450" y="1847.8" class="d">1876–1971</text></g>
<g id="n6_3_4_1"><rect class="o" x="411.5" y="1857" width="77" height="24.3" rx="1"/><text x="450" y="1864.4" class="n">6.3.4.1</text><text x="450" y="1870.9" class="b">Per Axel Hugo Månsson</text><text x="450" y="1877.5" class="d">1863–</text></g>
<g id="n6_3_4_2"><rect class="o" x="411.5" y="1886.3" width="77" height="24.3" rx="1"/><text x="450" y="1893.7" class="n">6.3.4.2</text><text x="450" y="1900.2" class="b">Johan Hjalmar Jonsson</text><text x="450" y="1906.8" class="d">1865–</text></g>
<g id="n6_3_5_1"><rect class="o" x="411.5" y="1915.6" width="77" height="30.9" rx="3.5"/><text x="450" y="1923" class="n">6.3.5.1</text><text x="450" y="1929.5" class="b">Constance Vilhelmina</text><text x="450" y="1936.1" class="b">Almgren</text><text x="450" y="1942.7" class="d">1865–1945</text></g>
<g id="n6_3_5_2"><rect class="o" x="411.5" y="1951.3" width="77" height="24.3" rx="3.5"/><text x="450" y="1958.7" class="n">6.3.5.2</text><text x="450" y="1965.2" class="b">Sofia Amalia Almgren</text><text x="450" y="1971.8" class="d">1865–1871</text></g>
<g id="n6_3_5_3"><rect class="o" x="411.5" y="1980.5" width="77" height="24.3" rx="1"/><text x="450" y="1987.9" class="n">6.3.5.3</text><text x="450" y="1994.4" class="b">Johan Ludvig Almgren</text><text x="450" y="2001" class="d">1865–</text></g>
<g id="n6_3_5_4"><rect class="o" x="411.5" y="2009.7" width="77" height="24.3" rx="3.5"/><text x="450" y="2017.1" class="n">6.3.5.4</text><text x="450" y="2023.6" class="b">Maria Aline Almgren</text><text x="450" y="2030.2" class="d">1868–</text></g>
<g id="n6_3_5_5"><rect class="o" x="411.5" y="2038.9" width="77" height="24.3" rx="3.5"/><text x="450" y="2046.3" class="n">6.3.5.5</text><text x="450" y="2052.8" class="b">Alma Augusta Almgren</text><text x="450" y="2059.4" class="d">1871–1872</text></g>
<g id="n6_3_5_6"><rect class="o" x="411.5" y="2068" width="77" height="24.3" rx="1"/><text x="450" y="2075.4" class="n">6.3.5.6</text><text x="450" y="2081.9" class="b">Carl Axel Hugo Almgren</text><text x="450" y="2088.5" class="d">1873–</text></g>
<g id="n6_3_8_1"><rect class="o" x="411.5" y="2097.3" width="77" height="24.3" rx="1"/><text x="450" y="2104.7" class="n">6.3.8.1</text><text x="450" y="2111.2" class="b">James Albert Berg</text><text x="450" y="2117.8" class="d">1871–</text></g>
<g id="n6_3_8_2"><rect class="o" x="411.5" y="2126.5" width="77" height="24.3" rx="1"/><text x="450" y="2133.9" class="n">6.3.8.2</text><text x="450" y="2140.4" class="b">Carl Dickens Berg</text><text x="450" y="2147" class="d">1876–</text></g>
<g id="n6_3_8_3"><rect class="o" x="411.5" y="2155.7" width="77" height="24.3" rx="3.5"/><text x="450" y="2163.1" class="n">6.3.8.3</text><text x="450" y="2169.6" class="b">Amanda Maybel Emily Berg</text><text x="450" y="2176.2" class="d">1878–</text></g>
<g id="n6_3_8_4"><rect class="o" x="411.5" y="2184.9" width="77" height="24.3" rx="3.5"/><text x="450" y="2192.3" class="n">6.3.8.4</text><text x="450" y="2198.8" class="b">Eliza Mary Berg</text><text x="450" y="2205.4" class="d">1875–</text></g>
<g id="n6_3_10_1"><rect class="o" x="411.5" y="2214.2" width="77" height="30.9" rx="1"/><text x="450" y="2221.6" class="n">6.3.10.1</text><text x="450" y="2228.1" class="b">Johan Robert Helge</text><text x="450" y="2234.7" class="b">Landberg</text><text x="450" y="2241.3" class="d">1876–</text></g>
<g id="n6_3_10_2"><rect class="o" x="411.5" y="2250" width="77" height="24.3" rx="1"/><text x="450" y="2257.4" class="n">6.3.10.2</text><text x="450" y="2263.9" class="b">Karl Alfred Hugo Landberg</text><text x="450" y="2270.5" class="d">1876–</text></g>
<g id="n6_3_10_3"><rect class="o" x="411.5" y="2279.3" width="77" height="30.9" rx="1"/><text x="450" y="2286.7" class="n">6.3.10.3</text><text x="450" y="2293.2" class="b">Gustaf Edvard Henry</text><text x="450" y="2299.8" class="b">Landberg</text><text x="450" y="2306.4" class="d">1879–</text></g>
<g id="n6_3_10_4"><rect class="o" x="411.5" y="2315.1" width="77" height="24.3" rx="1"/><text x="450" y="2322.5" class="n">6.3.10.4</text><text x="450" y="2329" class="b">Nils Tore Algot Landberg</text><text x="450" y="2335.6" class="d">1885–</text></g>
<g id="n6_3_10_5"><rect class="o" x="411.5" y="2344.5" width="77" height="30.9" rx="3.5"/><text x="450" y="2351.9" class="n">6.3.10.5</text><text x="450" y="2358.4" class="b">Clary Elsa Margareta</text><text x="450" y="2365" class="b">Charlotta Landberg</text><text x="450" y="2371.6" class="d">1888–</text></g>
</svg>
